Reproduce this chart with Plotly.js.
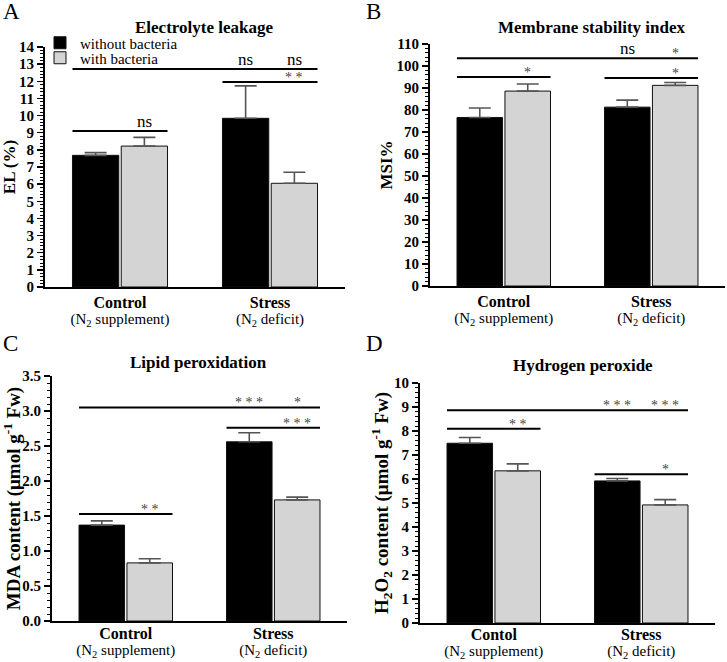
<!DOCTYPE html>
<html>
<head>
<meta charset="utf-8">
<script src="https://cdn.plot.ly/plotly-3.0.1.min.js"></script>
<style>html,body{margin:0;padding:0;background:#fff;}#chart{width:727px;height:662px;}</style>
</head>
<body>
<div id="chart"></div>
<script>
// ---------- data ----------
const categories = ['Control', 'Stress'];
const seriesNames = ['without bacteria', 'with bacteria'];

// A: Electrolyte leakage (EL %)
const elWithout = [7.68, 9.84];
const elWithoutErr = [0.16, 1.89];
const elWith = [8.22, 6.05];
const elWithErr = [0.51, 0.64];

// B: Membrane stability index (MSI %)
const msiWithout = [76.6, 81.3];
const msiWithoutErr = [4.3, 3.2];
const msiWith = [88.6, 91.2];
const msiWithErr = [3.2, 1.3];

// C: Lipid peroxidation (MDA content)
const mdaWithout = [1.37, 2.56];
const mdaWithoutErr = [0.06, 0.13];
const mdaWith = [0.83, 1.73];
const mdaWithErr = [0.06, 0.04];

// D: Hydrogen peroxide (H2O2 content)
const h2o2Without = [7.49, 5.92];
const h2o2WithoutErr = [0.24, 0.10];
const h2o2With = [6.34, 4.92];
const h2o2WithErr = [0.29, 0.22];

// tick labels
const tickLabelsABC = ['Control', 'Stress'];
const tickSubLabels = ['(N<sub>2</sub> supplement)', '(N<sub>2</sub> deficit)'];
const tickLabelsD = ['Contol', 'Stress'];

// significance brackets: bar index 0..3 = Control-without, Control-with, Stress-without, Stress-with
const sigA = [
  {y: 12.72, from: 0, to: 3, labels: [[2, 'ns'], [3, 'ns']]},
  {y: 11.96, from: 2, to: 3, labels: [[3, '**']]},
  {y: 9.1, from: 0, to: 1, labels: [[1, 'ns']]}
];
const sigB = [
  {y: 103.5, from: 0, to: 3, labels: [[2, 'ns'], [3, '*']]},
  {y: 95, from: 0, to: 1, labels: [[1, '*']]},
  {y: 94.5, from: 2, to: 3, labels: [[3, '*']]}
];
const sigC = [
  {y: 3.05, from: 0, to: 3, labels: [[2, '***'], [3, '*']]},
  {y: 2.76, from: 2, to: 3, labels: [[3, '***']]},
  {y: 1.53, from: 0, to: 1, labels: [[1, '**']]}
];
const sigD = [
  {y: 8.86, from: 0, to: 3, labels: [[2, '***'], [3, '***']]},
  {y: 8.09, from: 0, to: 1, labels: [[1, '**']]},
  {y: 6.2, from: 2, to: 3, labels: [[3, '*']]}
];

// ---------- styling ----------
const W = 727, H = 662;
const FONT = 'Liberation Serif, Times New Roman, DejaVu Serif, serif';
const BLACK = '#000000';
const GREY = '#d4d4d4';
const BARGAP = 0.35, BARGROUPGAP = 0.05;

function px2x(a, b) { return [a / W, b / W]; }
function px2y(top, bottom) { return [(H - bottom) / H, (H - top) / H]; }

function barTrace(y, err, idx, ax, showlegend) {
  return {
    type: 'bar',
    x: categories,
    y: y,
    name: seriesNames[idx],
    legend: idx === 0 ? 'legend' : 'legend2',
    xaxis: 'x' + ax, yaxis: 'y' + ax,
    showlegend: showlegend,
    marker: {color: idx === 0 ? BLACK : GREY, line: {color: '#111', width: 1}},
    error_y: {type: 'data', symmetric: false, array: err, arrayminus: err.map(() => 0),
              color: '#555', thickness: 1.6, width: 11}
  };
}

const traces = [
  barTrace(elWithout, elWithoutErr, 0, '', true),
  barTrace(elWith, elWithErr, 1, '', true),
  barTrace(msiWithout, msiWithoutErr, 0, '2', false),
  barTrace(msiWith, msiWithErr, 1, '2', false),
  barTrace(mdaWithout, mdaWithoutErr, 0, '3', false),
  barTrace(mdaWith, mdaWithErr, 1, '3', false),
  barTrace(h2o2Without, h2o2WithoutErr, 0, '4', false),
  barTrace(h2o2With, h2o2WithErr, 1, '4', false)
];

// bar geometry in category units
const slot = (1 - BARGAP) / 2;
const barW = slot * (1 - BARGROUPGAP);
function barCenter(k) { const c = Math.floor(k / 2); return c + (k % 2 === 0 ? -slot / 2 : slot / 2); }
function barLeft(k) { return barCenter(k) - barW / 2; }
function barRight(k) { return barCenter(k) + barW / 2; }

const shapes = [];
const annotations = [];
function addSig(list, ax) {
  list.forEach(s => {
    shapes.push({type: 'line', xref: 'x' + ax, yref: 'y' + ax,
      x0: barLeft(s.from), x1: barRight(s.to), y0: s.y, y1: s.y,
      line: {color: BLACK, width: 2}});
    s.labels.forEach(([k, t]) => {
      const star = t.indexOf('*') >= 0;
      annotations.push({xref: 'x' + ax, yref: 'y' + ax, x: barCenter(k), y: s.y,
        text: star ? t.split('').join(' ') : t, showarrow: false, yanchor: 'bottom', yshift: star ? -5 : -2,
        font: {family: FONT, size: star ? 14 : 17, color: star ? '#444444' : BLACK}});
    });
  });
}
addSig(sigA, ''); addSig(sigB, '2'); addSig(sigC, '3'); addSig(sigD, '4');

// panel letters & titles
function paperText(text, xpx, ypx, size, bold, xanchor) {
  annotations.push({xref: 'paper', yref: 'paper', x: xpx / W, y: 1 - ypx / H,
    text: bold ? '<b>' + text + '</b>' : text, showarrow: false,
    xanchor: xanchor || 'center', yanchor: 'middle',
    font: {family: FONT, size: size, color: BLACK}});
}
paperText('A', 1, 12, 23, false, 'left');
paperText('B', 364, 12, 23, false, 'left');
paperText('C', 1, 343, 23, false, 'left');
paperText('D', 364, 343, 23, false, 'left');
paperText('Electrolyte leakage', 204, 27, 17, true);
paperText('Membrane stability index', 591, 28, 17, true);
paperText('Lipid peroxidation', 198, 362, 17, true);
paperText('Hydrogen peroxide', 583, 365, 17, true);

function tickText(main) {
  return main.map((m, i) => '<span style="font-size:16px"><b>' + m + '</b></span><br><span style="font-size:15px">' + tickSubLabels[i] + '</span>');
}

function xAxis(domain, labels, anchor, standoff) {
  return {
    domain: domain, anchor: anchor, type: 'category', range: [-0.5, 1.5],
    showline: true, linecolor: BLACK, linewidth: 2, ticks: '', showgrid: false, zeroline: false,
    tickmode: 'array', tickvals: categories, ticktext: tickText(labels), ticklabelstandoff: standoff,
    tickfont: {family: FONT, size: 12.5, color: BLACK}, fixedrange: true
  };
}
function yAxis(domain, range, dtick, minor, title, anchor, standoff, titleSize, fmt) {
  return {
    domain: domain, anchor: anchor, range: range, dtick: dtick, tick0: 0,
    showline: true, linecolor: BLACK, linewidth: 2, ticks: 'outside', ticklen: 6, tickwidth: 1.5,
    tickcolor: BLACK, showgrid: false, zeroline: false, tickformat: fmt || '',
    minor: {dtick: minor, ticks: 'outside', ticklen: 3.5, tickwidth: 1, tickcolor: BLACK, showgrid: false},
    tickfont: {family: FONT, size: 15, color: BLACK, weight: 'bold'},
    title: {text: '<b>' + title + '</b>', font: {family: FONT, size: titleSize, color: BLACK}, standoff: standoff},
    fixedrange: true
  };
}

const legendCommon = {xanchor: 'left', yanchor: 'middle', bgcolor: 'rgba(0,0,0,0)',
  font: {family: FONT, size: 15, color: BLACK}, itemwidth: 30, borderwidth: 0};

const layout = {
  width: W, height: H,
  margin: {l: 0, r: 0, t: 0, b: 0},
  paper_bgcolor: '#ffffff', plot_bgcolor: '#ffffff',
  barmode: 'group', bargap: BARGAP, bargroupgap: BARGROUPGAP,
  font: {family: FONT, color: BLACK},
  showlegend: true,
  legend: Object.assign({x: 40 / W, y: 1 - 43 / H}, legendCommon),
  legend2: Object.assign({x: 40 / W, y: 1 - 58 / H}, legendCommon),
  xaxis: xAxis(px2x(45, 345), tickLabelsABC, 'y', 4),
  yaxis: yAxis(px2y(47, 287), [0, 14], 1, 0.2, 'EL (%)', 'x', 6, 17),
  xaxis2: xAxis(px2x(430, 725), tickLabelsABC, 'y2', 4),
  yaxis2: yAxis(px2y(44, 286), [0, 110], 10, 2, 'MSI%', 'x2', 0, 17),
  xaxis3: xAxis(px2x(52, 347), tickLabelsABC, 'y3', 1),
  yaxis3: yAxis(px2y(376, 621), [0, 3.5], 0.5, 0.1, 'MDA content (μmol g<sup>-1</sup> Fw)', 'x3', 5, 19, '.1f'),
  xaxis4: xAxis(px2x(420, 715), tickLabelsD, 'y4', 0),
  yaxis4: yAxis(px2y(383, 623), [0, 10], 1, 0.2, 'H<sub>2</sub>O<sub>2</sub> content (μmol g<sup>-1</sup> Fw)', 'x4', 0, 19),
  shapes: shapes,
  annotations: annotations
};

Plotly.newPlot('chart', traces, layout, {staticPlot: true, displayModeBar: false});
</script>
</body>
</html>
